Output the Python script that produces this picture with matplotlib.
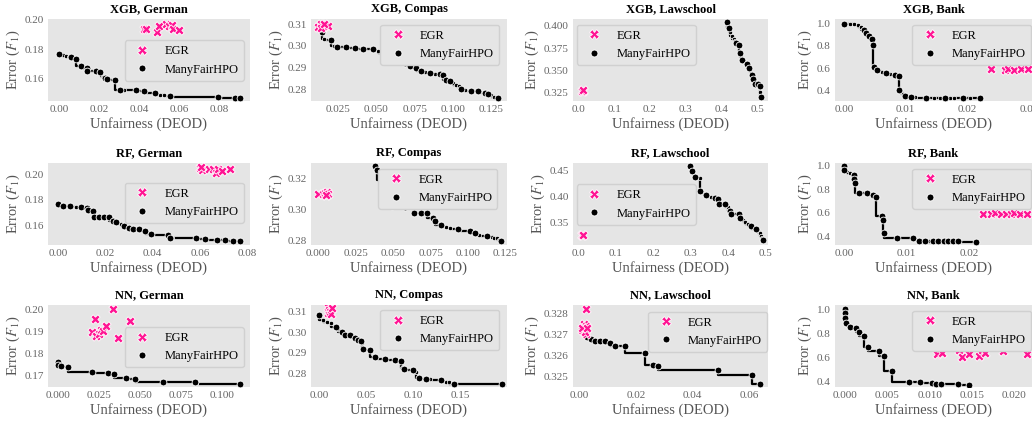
import matplotlib
matplotlib.use('Agg')
import matplotlib.pyplot as plt
from matplotlib.ticker import MultipleLocator, FormatStrFormatter
from matplotlib.lines import Line2D

# ── data: (unfairness, error) ────────────────────────────────────────────────
titles = ['XGB, German', 'XGB, Compas', 'XGB, Lawschool', 'XGB, Bank',
          'RF, German', 'RF, Compas', 'RF, Lawschool', 'RF, Bank',
          'NN, German', 'NN, Compas', 'NN, Lawschool', 'NN, Bank']

xgb_german_big = [(0.0, 0.1764), (0.0058, 0.1743), (0.0087, 0.1732), (0.011, 0.1684), (0.014, 0.1672),
                  (0.014, 0.1652), (0.0183, 0.165), (0.0203, 0.1645), (0.0228, 0.1599), (0.024, 0.1594),
                  (0.0282, 0.1587), (0.0307, 0.1523), (0.0387, 0.1518), (0.0423, 0.1512), (0.048, 0.1498),
                  (0.0553, 0.1479), (0.0795, 0.1475), (0.0882, 0.1466), (0.0903, 0.1466)]
xgb_german_small = [(0.002, 0.1757), (0.0035, 0.1753), (0.0048, 0.1748), (0.0068, 0.174), (0.0118, 0.1675),
                    (0.0125, 0.1673), (0.0212, 0.1625), (0.0218, 0.161), (0.0325, 0.152), (0.0505, 0.1488),
                    (0.0525, 0.1483)]
xgb_german_egr = [(0.0425, 0.1936), (0.0437, 0.194), (0.049, 0.1915), (0.050, 0.196), (0.0537, 0.197),
                  (0.055, 0.1955), (0.0567, 0.1961), (0.057, 0.1936), (0.060, 0.1927)]

xgb_compas_big = [(0.0141, 0.3063), (0.0202, 0.3029), (0.0243, 0.2997), (0.0298, 0.2994), (0.0363, 0.2989),
                  (0.0415, 0.2988), (0.0478, 0.2985), (0.0641, 0.2940), (0.0685, 0.2920), (0.0720, 0.2909),
                  (0.0760, 0.2897), (0.0790, 0.2884), (0.0848, 0.2874), (0.0913, 0.2871), (0.0935, 0.2865),
                  (0.0957, 0.2842), (0.0978, 0.2839), (0.1054, 0.2803), (0.1120, 0.2795), (0.1163, 0.2794),
                  (0.1207, 0.2785), (0.1230, 0.2780), (0.1295, 0.2762)]
xgb_compas_small = [(0.016, 0.3030), (0.022, 0.3000), (0.051, 0.2975), (0.054, 0.2968), (0.057, 0.2962),
                    (0.060, 0.2952), (0.062, 0.2946), (0.066, 0.2930), (0.070, 0.2912), (0.074, 0.2904),
                    (0.082, 0.2880), (0.088, 0.2872), (0.100, 0.2830), (0.102, 0.2822), (0.104, 0.2815),
                    (0.108, 0.2800), (0.118, 0.2790), (0.125, 0.2775), (0.127, 0.2768)]
xgb_compas_egr = [(0.0120, 0.3088), (0.0135, 0.3098), (0.0150, 0.3085), (0.0165, 0.3095), (0.0180, 0.3090),
                  (0.0140, 0.3080), (0.0160, 0.3102)]

xgb_law_big = [(0.416, 0.4046), (0.421, 0.398), (0.441, 0.3804), (0.449, 0.378), (0.452, 0.369),
               (0.458, 0.361), (0.472, 0.357), (0.476, 0.352), (0.486, 0.345), (0.488, 0.340),
               (0.494, 0.335), (0.503, 0.335), (0.507, 0.332), (0.510, 0.3195)]
xgb_law_small = [(0.425, 0.393), (0.430, 0.389), (0.435, 0.385), (0.438, 0.383), (0.455, 0.365),
                 (0.462, 0.359), (0.466, 0.358), (0.480, 0.349), (0.483, 0.347), (0.490, 0.338),
                 (0.497, 0.335), (0.509, 0.326)]
xgb_law_egr = [(0.013, 0.3272), (0.010, 0.3268), (0.012, 0.3276)]

xgb_bank_big = [(0.0, 1.0), (0.0032, 0.939), (0.0035, 0.915), (0.0041, 0.891), (0.0045, 0.864),
                (0.0046, 0.809), (0.0048, 0.606), (0.0054, 0.582), (0.0068, 0.558), (0.0083, 0.536),
                (0.0089, 0.527), (0.0089, 0.400), (0.0099, 0.345), (0.0108, 0.339), (0.0133, 0.333),
                (0.0163, 0.330), (0.0193, 0.327), (0.022, 0.327)]
xgb_bank_small = [(0.001, 0.997), (0.0016, 0.993), (0.0023, 0.985), (0.0028, 0.97), (0.0058, 0.575),
                  (0.0062, 0.568), (0.0075, 0.545), (0.0093, 0.385), (0.0095, 0.37), (0.0115, 0.337),
                  (0.0145, 0.332), (0.0155, 0.331), (0.0172, 0.329), (0.0178, 0.329), (0.0205, 0.327)]
xgb_bank_egr = [(0.0238, 0.588), (0.0261, 0.585), (0.0266, 0.590), (0.0276, 0.586), (0.0287, 0.587),
                (0.0298, 0.588)]

rf_german_big = [(0.0, 0.1766), (0.002, 0.1755), (0.0052, 0.1753), (0.0095, 0.1745), (0.012, 0.1737),
                 (0.0128, 0.1722), (0.0149, 0.1718), (0.0152, 0.167), (0.0173, 0.1666), (0.0194, 0.1666),
                 (0.0213, 0.1666), (0.023, 0.164), (0.0244, 0.1632), (0.028, 0.16), (0.030, 0.158),
                 (0.0315, 0.1574), (0.034, 0.1574), (0.0365, 0.1555), (0.0393, 0.1534), (0.0464, 0.1526),
                 (0.0474, 0.1503), (0.0584, 0.1502), (0.062, 0.1495), (0.067, 0.149), (0.0705, 0.149),
                 (0.074, 0.1482), (0.0769, 0.1482)]
rf_german_small = [(0.0075, 0.1745), (0.0265, 0.161), (0.035, 0.1565), (0.036, 0.156), (0.048, 0.1502)]
rf_german_egr = [(0.0599, 0.2047), (0.0606, 0.2034), (0.0603, 0.2053), (0.0638, 0.204), (0.0655, 0.204),
                 (0.0667, 0.2008), (0.0677, 0.2042), (0.0691, 0.2021), (0.0726, 0.204)]

rf_compas_big = [(0.0375, 0.3281), (0.0392, 0.3255), (0.0430, 0.3189), (0.0432, 0.3046), (0.0492, 0.3022),
                 (0.0581, 0.3018), (0.0632, 0.3013), (0.0636, 0.2980), (0.0685, 0.2978), (0.0725, 0.2974),
                 (0.0765, 0.2947), (0.0780, 0.2925), (0.0818, 0.2899), (0.0931, 0.2877), (0.1013, 0.2864),
                 (0.1046, 0.2846), (0.1124, 0.2831), (0.1223, 0.2798)]
rf_compas_small = [(0.085, 0.2885), (0.088, 0.2880), (0.1075, 0.2833), (0.1157, 0.2822), (0.1175, 0.2818),
                   (0.1190, 0.2813), (0.1205, 0.2806)]
rf_compas_egr = [(0.000, 0.3101), (0.0027, 0.3100), (0.0045, 0.3104), (0.0053, 0.3090), (0.006, 0.3112),
                 (0.0064, 0.3100), (0.0050, 0.3095)]

rf_law_big = [(0.299, 0.4592), (0.3036, 0.45), (0.3125, 0.4382), (0.3259, 0.4108), (0.341, 0.4023),
              (0.3634, 0.397), (0.3723, 0.3957), (0.375, 0.386), (0.3902, 0.386), (0.4036, 0.3729),
              (0.408, 0.3663), (0.4286, 0.3663), (0.4321, 0.3598), (0.4616, 0.3435), (0.475, 0.3389),
              (0.4929, 0.3173)]
rf_law_small = [(0.301, 0.455), (0.306, 0.446), (0.309, 0.441), (0.325, 0.435), (0.330, 0.408),
                (0.334, 0.405), (0.3545, 0.399), (0.398, 0.381), (0.437, 0.356), (0.4393, 0.3546),
                (0.445, 0.352), (0.452, 0.348), (0.4795, 0.335), (0.4839, 0.3304), (0.4884, 0.3239),
                (0.4905, 0.320)]
rf_law_egr = [(0.011, 0.3271), (0.009, 0.3265), (0.013, 0.3275)]

rf_bank_big = [(0.0, 1.0), (0.0, 0.96), (0.0016, 0.922), (0.0016, 0.884), (0.0018, 0.855), (0.0024, 0.771),
               (0.0037, 0.768), (0.0046, 0.754), (0.0051, 0.733), (0.006, 0.574), (0.0062, 0.536),
               (0.0064, 0.429), (0.0085, 0.385), (0.011, 0.385), (0.012, 0.365), (0.0129, 0.362),
               (0.0141, 0.357), (0.015, 0.357), (0.0159, 0.357), (0.0166, 0.357), (0.0174, 0.357),
               (0.0182, 0.357), (0.021, 0.351)]
rf_bank_small = [(0.0005, 0.95), (0.001, 0.942), (0.0014, 0.93), (0.0113, 0.377), (0.0118, 0.37),
                 (0.0135, 0.36), (0.0145, 0.357)]
rf_bank_egr = [(0.0221, 0.594), (0.0234, 0.592), (0.0241, 0.595), (0.0249, 0.593), (0.0257, 0.594),
               (0.0265, 0.592), (0.0271, 0.595), (0.028, 0.593), (0.0291, 0.590)]

nn_german_big = [(0.0, 0.1762), (0.0, 0.1746), (0.002, 0.1743), (0.006, 0.1738), (0.0205, 0.1713),
                 (0.0305, 0.1708), (0.0342, 0.1706), (0.0414, 0.1686), (0.0471, 0.1683), (0.064, 0.1671),
                 (0.0834, 0.1668), (0.111, 0.1658)]
nn_german_small = [(0.0838, 0.1664)]
nn_german_egr = [(0.021, 0.1897), (0.0225, 0.1954), (0.023, 0.188), (0.025, 0.1886), (0.026, 0.1905),
                 (0.0275, 0.190), (0.0295, 0.1923), (0.0336, 0.200), (0.0363, 0.1871), (0.044, 0.1948)]

nn_compas_big = [(0.0, 0.3082), (0.0172, 0.3025), (0.0242, 0.300), (0.0277, 0.2988), (0.0323, 0.2985),
                 (0.0376, 0.297), (0.0411, 0.2962), (0.0439, 0.2958), (0.0464, 0.2918), (0.0541, 0.2912),
                 (0.0587, 0.2878), (0.0692, 0.2867), (0.0804, 0.2865), (0.0868, 0.2857), (0.0896, 0.282),
                 (0.0991, 0.2815), (0.1054, 0.2778), (0.1131, 0.2773), (0.1289, 0.2767), (0.1423, 0.2748),
                 (0.1932, 0.2748)]
nn_compas_small = [(0.0042, 0.3058), (0.0077, 0.3048), (0.0123, 0.3042), (0.020, 0.3015), (0.0351, 0.2985),
                   (0.0453, 0.2945), (0.088, 0.2825), (0.1026, 0.2803), (0.1177, 0.277), (0.1342, 0.2758),
                   (0.138, 0.2755)]
nn_compas_egr = [(0.0088, 0.3095), (0.0095, 0.312), (0.0102, 0.3108), (0.0112, 0.3098), (0.0123, 0.3087),
                 (0.013, 0.3115)]

nn_law_big = [(0.0026, 0.32688), (0.004, 0.3268), (0.0057, 0.32671), (0.0074, 0.32671), (0.0089, 0.32668),
              (0.0109, 0.3266), (0.0126, 0.32644), (0.016, 0.32644), (0.0233, 0.3261), (0.0261, 0.32557),
              (0.0277, 0.32548), (0.0489, 0.32529), (0.0607, 0.32506), (0.0636, 0.32462)]
nn_law_small = [(0.0015, 0.32700), (0.0032, 0.32685)]
nn_law_egr = [(0.0023, 0.3282), (0.0017, 0.3275), (0.0023, 0.3274), (0.0011, 0.3272), (0.0025, 0.3270),
              (0.0019, 0.3271), (0.0009, 0.3273), (0.0028, 0.3273)]

nn_bank_big = [(0.0, 1.0), (0.0, 0.966), (0.0, 0.929), (0.0001, 0.886), (0.0006, 0.851), (0.0013, 0.846),
               (0.0016, 0.809), (0.0022, 0.774), (0.0027, 0.686), (0.004, 0.651), (0.0046, 0.609),
               (0.0055, 0.486), (0.0075, 0.394), (0.0088, 0.389), (0.0103, 0.386), (0.0108, 0.38),
               (0.0113, 0.38), (0.0133, 0.377), (0.0147, 0.371)]
nn_bank_small = [(0.0003, 0.87)]
nn_bank_egr = [(0.0109, 0.623), (0.0115, 0.637), (0.0135, 0.657), (0.0138, 0.603), (0.0147, 0.623),
               (0.0158, 0.609), (0.0162, 0.657), (0.0166, 0.637), (0.0187, 0.651), (0.0215, 0.629)]

big_sets = [xgb_german_big, xgb_compas_big, xgb_law_big, xgb_bank_big,
            rf_german_big, rf_compas_big, rf_law_big, rf_bank_big,
            nn_german_big, nn_compas_big, nn_law_big, nn_bank_big]
small_sets = [xgb_german_small, xgb_compas_small, xgb_law_small, xgb_bank_small,
              rf_german_small, rf_compas_small, rf_law_small, rf_bank_small,
              nn_german_small, nn_compas_small, nn_law_small, nn_bank_small]
egr_sets = [xgb_german_egr, xgb_compas_egr, xgb_law_egr, xgb_bank_egr,
            rf_german_egr, rf_compas_egr, rf_law_egr, rf_bank_egr,
            nn_german_egr, nn_compas_egr, nn_law_egr, nn_bank_egr]

# ── per-panel axis setup ─────────────────────────────────────────────────────
xlims = [(-0.0055, 0.0955), (0.0072, 0.1354), (-0.015, 0.53), (-0.0015, 0.0305),
         (-0.0043, 0.0811), (-0.005, 0.126), (-0.014, 0.506), (-0.0014, 0.0299),
         (-0.0061, 0.117), (-0.0088, 0.199), (-0.0022, 0.0665), (-0.0012, 0.0221)]
ylims = [(0.1445, 0.2005), (0.2748, 0.3123), (0.3154, 0.4077), (0.303, 1.042),
         (0.145, 0.2087), (0.2771, 0.3299), (0.3075, 0.4644), (0.327, 1.023),
         (0.1646, 0.202), (0.2732, 0.3132), (0.3245, 0.3284), (0.351, 1.037)]
xsteps = [0.02, 0.025, 0.1, 0.01, 0.02, 0.025, 0.1, 0.01, 0.025, 0.05, 0.02, 0.005]
ysteps = [0.02, 0.01, 0.025, 0.2, 0.02, 0.02, 0.05, 0.2, 0.01, 0.01, 0.001, 0.2]
xdec = [2, 3, 1, 2, 2, 3, 1, 2, 3, 2, 2, 3]
ydec = [2, 2, 3, 1, 2, 2, 2, 1, 2, 2, 3, 1]
leg_pos = [('upper right', (0.97, 0.74)), ('upper right', (0.96, 0.93)),
           ('upper left', (0.02, 0.93)), ('upper right', (0.995, 0.93)),
           ('upper right', (0.97, 0.76)), ('upper right', (0.95, 0.93)),
           ('upper left', (0.02, 0.74)), ('upper right', (0.995, 0.93)),
           ('upper right', (0.97, 0.73)), ('upper right', (0.96, 0.94)),
           ('upper right', (0.995, 0.92)), ('upper right', (0.995, 0.93))]

BG = '#e5e5e5'
PINK = '#ff1493'
plt.rcParams.update({
    'font.family': ['Liberation Serif', 'DejaVu Serif'],
    'mathtext.fontset': 'stix',
    'axes.facecolor': BG,
    'axes.labelcolor': '#555555',
    'xtick.color': '#666666', 'ytick.color': '#666666',
})

W, H = 1032, 423
fig = plt.figure(figsize=(W / 100, H / 100), dpi=100)
lefts = [48, 311, 573, 835]
widths = [202, 196, 195, 197]
tops = [19, 163, 305]
ah = 82

for i in range(12):
    r, c = divmod(i, 4)
    ax = fig.add_axes([lefts[c] / W, 1 - (tops[r] + ah) / H, widths[c] / W, ah / H])
    for s in ax.spines.values():
        s.set_visible(False)

    big, small, egr = big_sets[i], small_sets[i], egr_sets[i]
    front = sorted(big + small, key=lambda p: (p[0], -p[1]))
    ax.plot([p[0] for p in front], [p[1] for p in front], drawstyle='steps-pre',
            color='black', lw=1.6, zorder=2)
    ax.scatter([p[0] for p in small], [p[1] for p in small], s=10, c='black',
               edgecolors='white', linewidths=0.5, zorder=3)
    ax.scatter([p[0] for p in big], [p[1] for p in big], s=24, c='black',
               edgecolors='white', linewidths=0.6, zorder=4)
    ax.scatter([p[0] for p in egr], [p[1] for p in egr], s=45, marker='X', c=PINK,
               edgecolors='white', linewidths=0.6, zorder=5)

    ax.set_xlim(*xlims[i]); ax.set_ylim(*ylims[i])
    ax.xaxis.set_major_locator(MultipleLocator(xsteps[i]))
    ax.yaxis.set_major_locator(MultipleLocator(ysteps[i]))
    ax.xaxis.set_major_formatter(FormatStrFormatter(f'%.{xdec[i]}f'))
    ax.yaxis.set_major_formatter(FormatStrFormatter(f'%.{ydec[i]}f'))
    ax.tick_params(length=0, labelsize=8, pad=3)
    ax.set_title(titles[i], fontsize=9, fontweight='bold', pad=5)
    ax.set_xlabel('Unfairness (DEOD)', fontsize=10.5, labelpad=2)
    ax.set_ylabel('Error ($F_1$)', fontsize=10.5, labelpad=2)

    handles = [Line2D([], [], ls='', marker='X', ms=7, mfc=PINK, mec='white', mew=0.6),
               Line2D([], [], ls='', marker='o', ms=5, mfc='black', mec='white', mew=0.6)]
    loc, anchor = leg_pos[i]
    ax.legend(handles, ['EGR', 'ManyFairHPO'], loc=loc, bbox_to_anchor=anchor, fontsize=9,
              frameon=True, facecolor=BG, edgecolor='#d0d0d0', framealpha=1,
              borderaxespad=0)

fig.savefig('out.png', dpi=100, facecolor='white')
